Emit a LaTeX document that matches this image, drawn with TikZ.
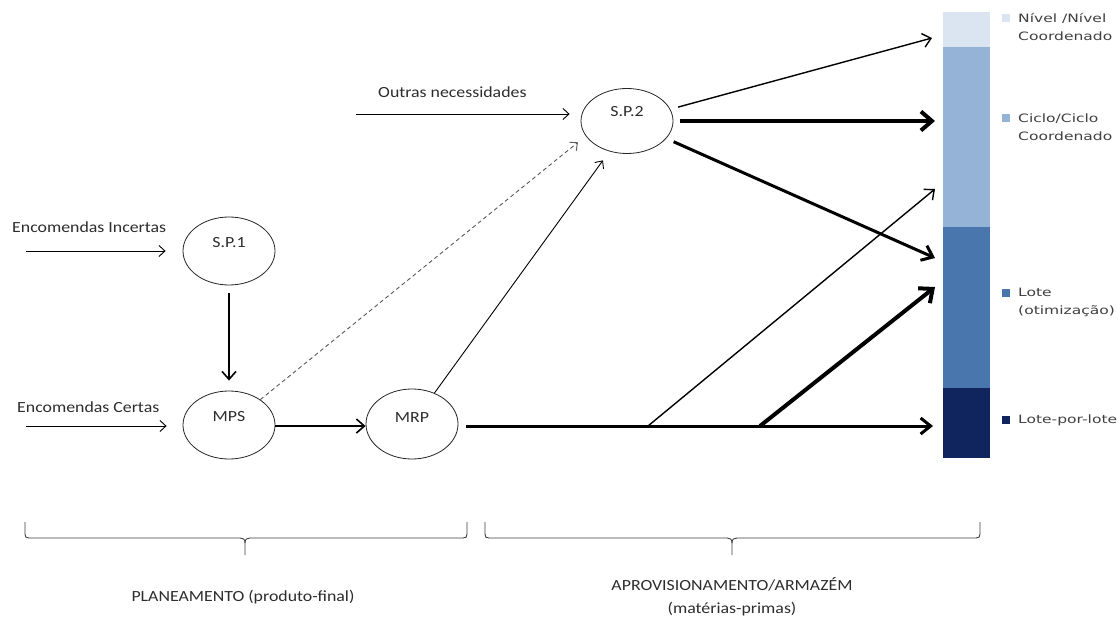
\documentclass[tikz,border=0pt]{standalone}
\usepackage{fontspec}
\setmainfont{Carlito}[FakeStretch=1.15]
\newfontfamily\legendfont{DejaVu Sans}[FakeStretch=1.35]
\usetikzlibrary{arrows.meta,shapes.geometric}
\definecolor{nivelc}{RGB}{219,229,241}
\definecolor{cicloc}{RGB}{149,179,215}
\definecolor{lotec}{RGB}{74,118,174}
\definecolor{lplc}{RGB}{16,36,94}
\definecolor{txt}{RGB}{45,45,45}
\begin{document}
\begin{tikzpicture}[x=1pt,y=-1pt,
  lbl/.style={font=\fontsize{15.5}{23}\selectfont, text=txt, inner sep=0},
  leg/.style={font=\legendfont\fontsize{11.5}{18}\selectfont, text=black!75, inner sep=0, anchor=west, align=left},
  sq/.style={minimum size=7.5pt, inner sep=0},
  ell/.style={ellipse, draw=black!85, line width=0.8pt, minimum width=92pt, minimum height=68pt, inner sep=0},
  thinarr/.style={line width=0.9pt, -{Straight Barb[length=6pt,width=11pt]}},
  medarr/.style={line width=1.6pt, -{Straight Barb[length=8pt,width=14pt]}},
  thickarr/.style={line width=3pt, -{Straight Barb[length=10pt,width=16pt]}},
  heavyarr/.style={line width=4pt, -{Straight Barb[length=11pt,width=19pt]}},
  bracepath/.style={draw=black!75, line width=0.9pt}
]
\useasboundingbox (0,0) rectangle (1118,620);
\fill[white] (0,0) rectangle (1118,620);

% ellipses
\node[ell] (sp1) at (229,251) {};
\node[lbl] (sp1t) at (229,243) {S.P.1};
\node[ell] (mps) at (229,425) {};
\node[lbl] (mpst) at (229,417) {MPS};
\node[ell, minimum height=70pt] (mrp) at (412,424) {};
\node[lbl] (mrpt) at (412,418) {MRP};
\node[ell, minimum height=65pt] (sp2) at (627,121) {};
\node[lbl] (sp2t) at (627,112) {S.P.2};

% input labels
\node[lbl, anchor=west] (inc) at (12,227) {Encomendas Incertas};
\node[lbl, anchor=west] (cer) at (17,407) {Encomendas Certas};
\node[lbl, anchor=west] (out) at (378,92) {Outras necessidades};

% coordinates
\coordinate (inc0) at (26,251);
\coordinate (cer0) at (26,426);
\coordinate (out0) at (356,114);
\coordinate (br1) at (648,426);
\coordinate (br2) at (760,426);
\coordinate (endN) at (932,38);
\coordinate (endC) at (935,121);
\coordinate (endL1) at (935,189);
\coordinate (endL2) at (935,258);
\coordinate (endL3) at (935,287);
\coordinate (endP) at (933,426);

% bar
\fill[nivelc] (943,12) rectangle (990,47);
\fill[cicloc] (943,47) rectangle (990,227);
\fill[lotec] (943,227) rectangle (990,388);
\fill[lplc] (943,388) rectangle (990,458);

% legend
\node[sq, fill=nivelc] (sqN) at (1006,18) {};
\node[leg] (legN) at (1018,27) {Nível /Nível\\Coordenado};
\node[sq, fill=cicloc] (sqC) at (1006,118) {};
\node[leg] (legC) at (1018,127) {Ciclo/Ciclo\\Coordenado};
\node[sq, fill=lotec] (sqL) at (1006,293) {};
\node[leg] (legL) at (1018,302) {Lote\\(otimização)};
\node[sq, fill=lplc] (sqP) at (1006,420) {};
\node[leg] (legP) at (1018,420) {Lote-por-lote};

% connectors
\draw[thinarr, shorten >=17pt] (inc0) -- (sp1.west |- inc0);
\draw[thinarr, shorten >=16pt] (cer0) -- (mps.west |- cer0);
\draw[thinarr, shorten >=11pt] (out0) -- (sp2.west |- out0);
\draw[medarr, shorten <=8pt, shorten >=10pt] (sp1) -- (mps);
\draw[medarr] (mps.east |- cer0) -- (mrp.west |- cer0);
\draw[thinarr, black!65, dash pattern=on 4pt off 3pt, shorten >=10pt] (mps) -- (sp2.200);
\draw[thinarr, shorten >=11pt] (mrp) -- (sp2.240);
\draw[medarr, line width=1.4pt, shorten <=8pt] (sp2) -- (endN);
\draw[heavyarr, shorten <=7pt] (sp2) -- (endC);
\draw[thickarr, shorten <=8pt] (sp2) -- (endL2);
\draw[thickarr, shorten <=8pt] (mrp.east |- endP) -- (endP);
\draw[medarr, line width=1.4pt] (br1) -- (endL1);
\draw[heavyarr] (br2) -- (endL3);

% braces
\draw[bracepath] (25,522) -- (25,534) .. controls (25,537) and (26,538) .. (29,538) -- (240,538) .. controls (243,538) and (245,539) .. (245,543) -- (245,555);
\draw[bracepath] (245,543) .. controls (245,539) and (247,538) .. (250,538) -- (463,538) .. controls (466,538) and (467,537) .. (467,534) -- (467,522);
\draw[bracepath] (485,522) -- (485,534) .. controls (485,537) and (486,538) .. (489,538) -- (727,538) .. controls (730,538) and (732,539) .. (732,543) -- (732,555);
\draw[bracepath] (732,543) .. controls (732,539) and (734,538) .. (737,538) -- (976,538) .. controls (979,538) and (980,537) .. (980,534) -- (980,522);

% bottom labels
\node[lbl] (plan) at (243,597) {PLANEAMENTO (produto-final)};
\node[lbl, align=center] (aprov) at (732,597) {APROVISIONAMENTO/ARMAZÉM\\(matérias-primas)};
\end{tikzpicture}
\end{document}
